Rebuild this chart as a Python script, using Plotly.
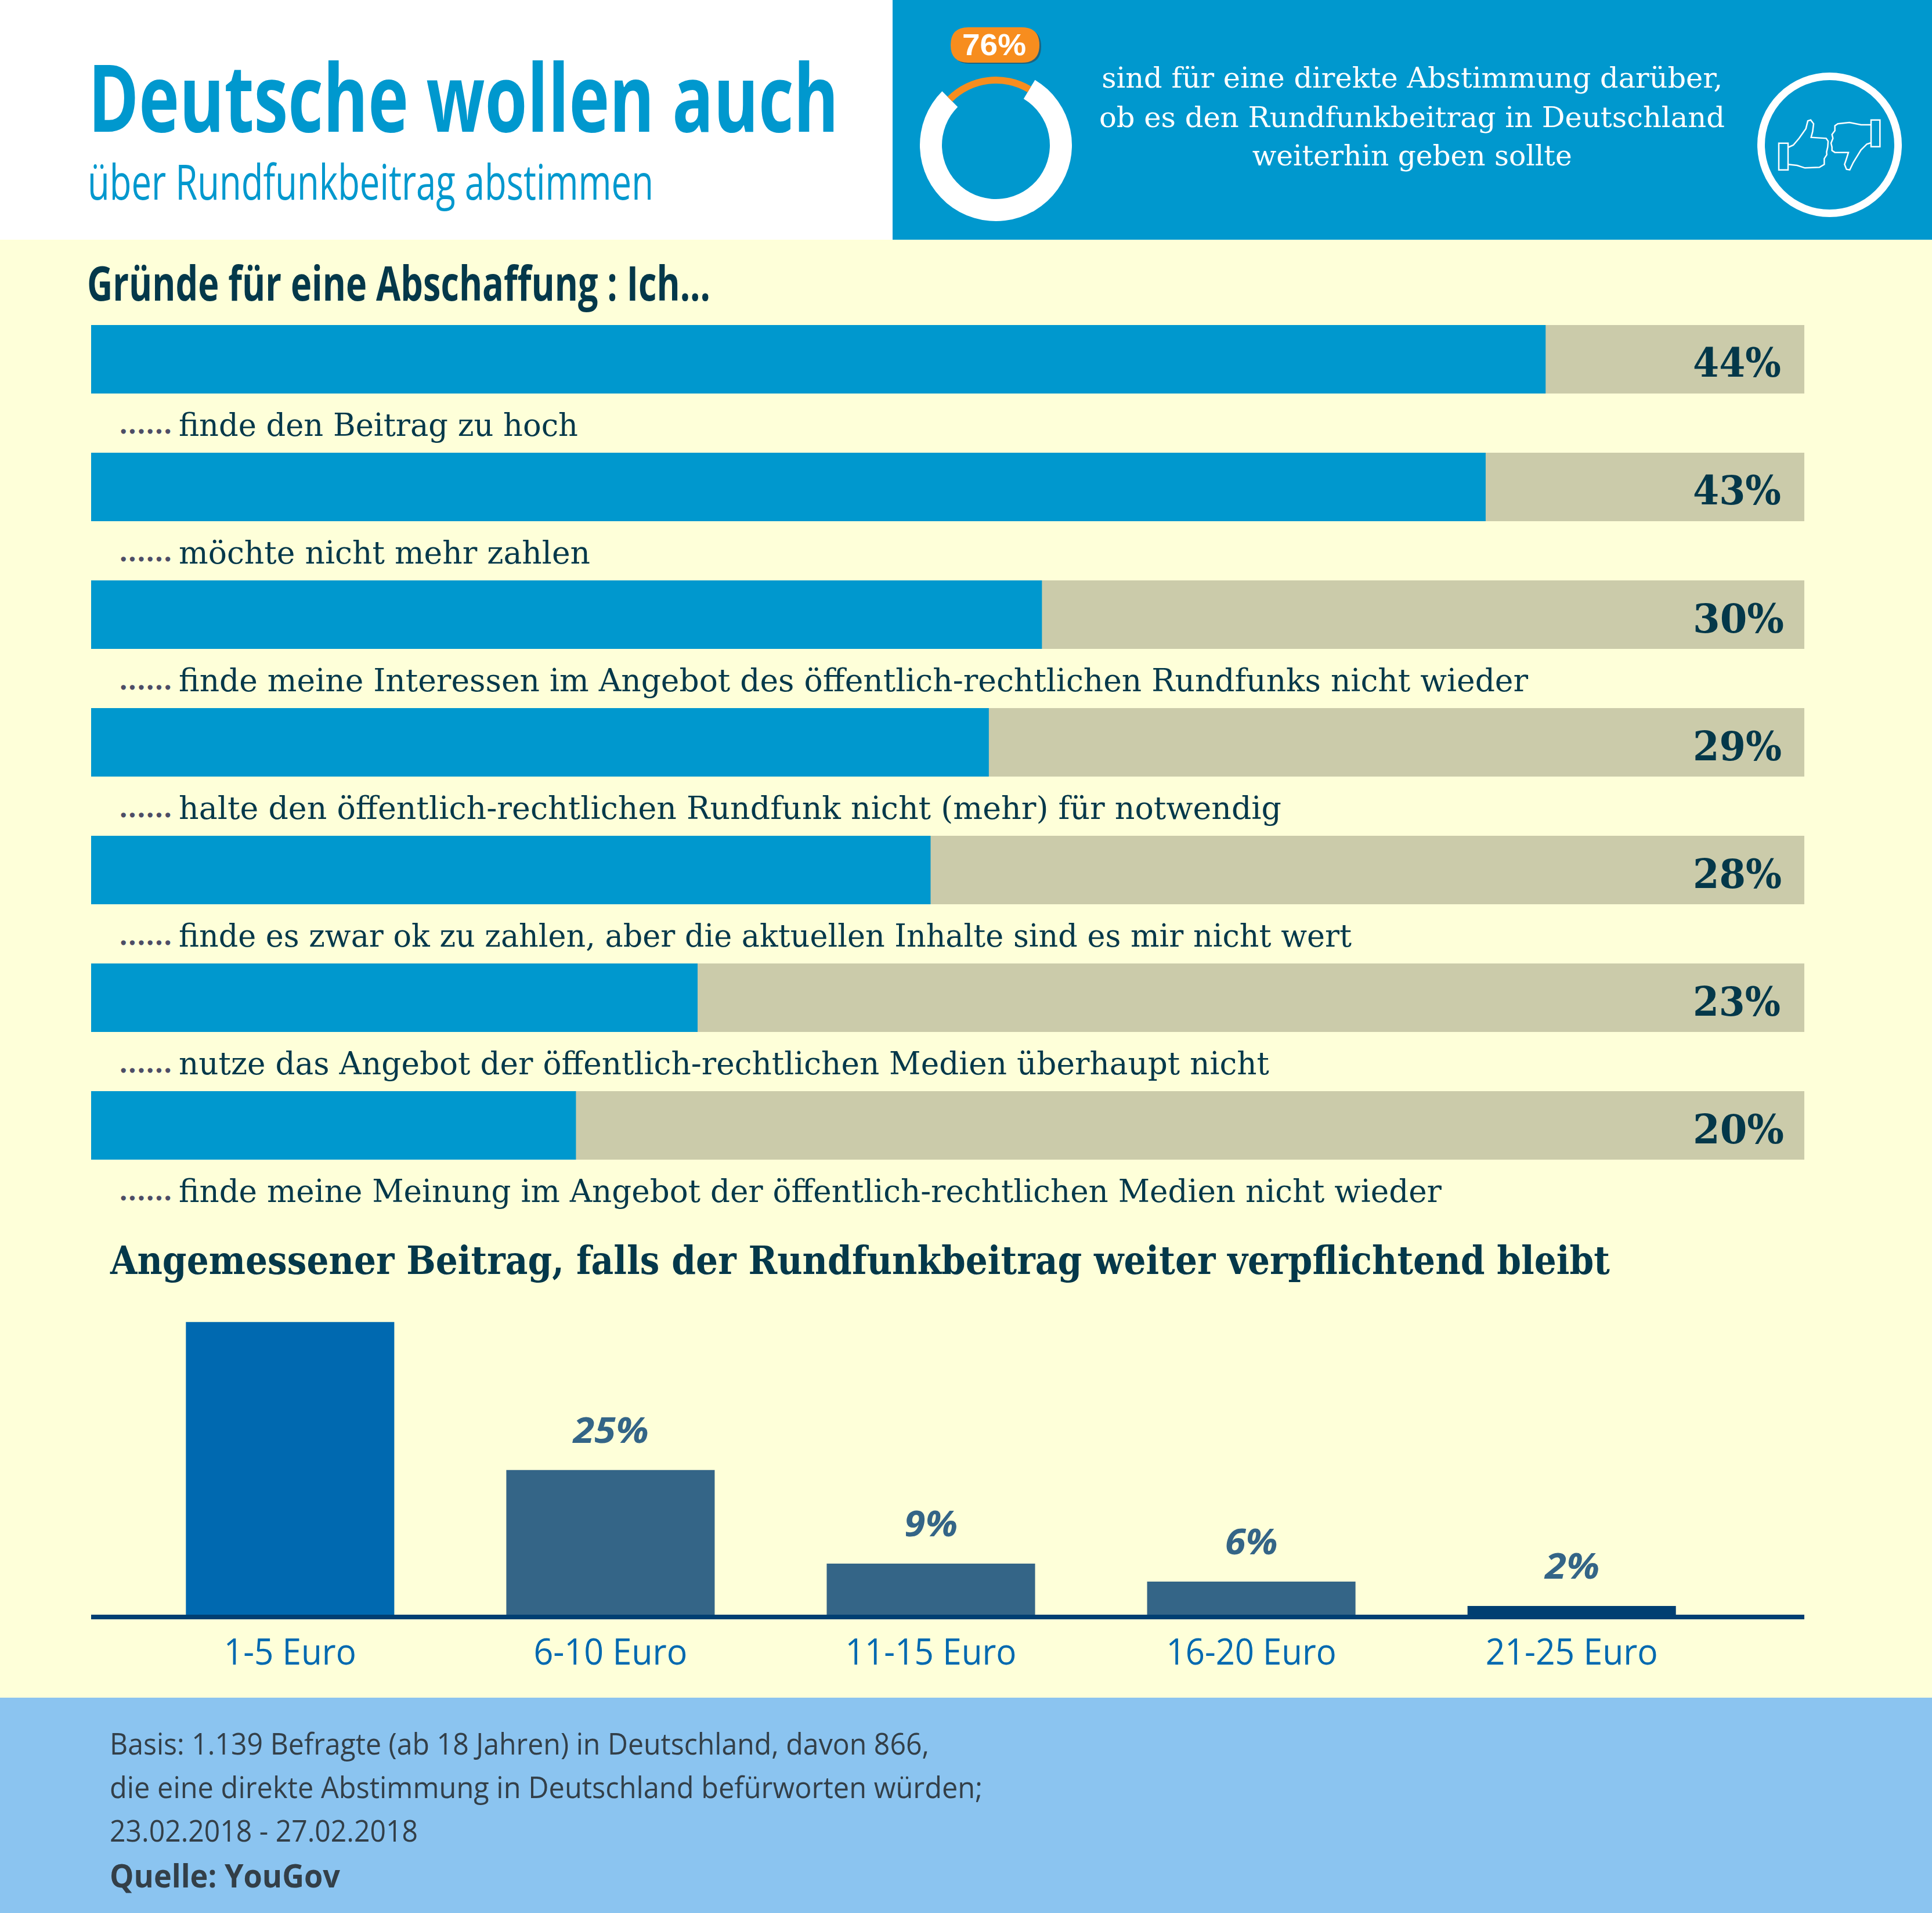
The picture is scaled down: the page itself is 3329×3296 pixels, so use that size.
import json
import plotly.graph_objects as go

W, H = 3329, 3296

# ---- data ----
reasons = [
    "finde den Beitrag zu hoch",
    "möchte nicht mehr zahlen",
    "finde meine Interessen im Angebot des öffentlich-rechtlichen Rundfunks nicht wieder",
    "halte den öffentlich-rechtlichen Rundfunk nicht (mehr) für notwendig",
    "finde es zwar ok zu zahlen, aber die aktuellen Inhalte sind es mir nicht wert",
    "nutze das Angebot der öffentlich-rechtlichen Medien überhaupt nicht",
    "finde meine Meinung im Angebot der öffentlich-rechtlichen Medien nicht wieder",
]
reason_labels = ["44%", "43%", "30%", "29%", "28%", "23%", "20%"]
# drawn length of each blue bar as a share of its grey track
reason_lengths = [84.9, 81.4, 55.5, 52.4, 49.0, 35.4, 28.3]
track_full = [100, 100, 100, 100, 100, 100, 100]
dots = "......"

fee_categories = ["1-5 Euro", "6-10 Euro", "11-15 Euro", "16-20 Euro", "21-25 Euro"]
fee_values = [50.6, 25, 8.84, 5.72, 1.5]
fee_labels = ["", "25%", "9%", "6%", "2%"]
fee_colors = ["#0069B0", "#346587", "#346587", "#346587", "#003F72"]

ring_gap_white = [21.1, 78.9]

title_main = "Deutsche wollen auch"
title_sub = "über Rundfunkbeitrag abstimmen"
heading_top = "Gründe für eine Abschaffung : Ich..."
heading_low = "Angemessener Beitrag, falls der Rundfunkbeitrag weiter verpflichtend bleibt"
poll_value = "76%"
poll_lines = ["sind für eine direkte Abstimmung darüber,",
              "ob es den Rundfunkbeitrag in Deutschland",
              "weiterhin geben sollte"]
foot_lines = ["Basis: 1.139 Befragte (ab 18 Jahren) in Deutschland, davon 866,",
              "die eine direkte Abstimmung in Deutschland befürworten würden;",
              "23.02.2018 - 27.02.2018"]
foot_source = "Quelle: YouGov"

# ---- palette / fonts ----
BLUE = "#0098CE"; CREAM = "#FEFFD9"; TRACK = "#CBCBAA"; DARK = "#04384A"
FOOT = "#8BC4F0"; ORANGE = "#F78D1E"; TICK = "#0069B0"; AXIS = "#003F72"
LABEL = "#346587"; FOOTTXT = "#333F48"; DOTS = "#4D4D66"
SLAB = "DejaVu Serif"; SANS = "Open Sans"

# on-page width of texts set in a condensed cut: the text stays real text, only narrowed
fit_widths = {
    title_main: 1293, title_sub: 975, heading_top: 1074, heading_low: 2584, poll_value: 110,
    poll_lines[0]: 1070, poll_lines[1]: 1078, poll_lines[2]: 551,
    foot_lines[0]: 1412, foot_lines[1]: 1504, foot_lines[2]: 531, foot_source: 397,
    reasons[0]: 688, reasons[1]: 709, reasons[2]: 2325, reasons[3]: 1900,
    reasons[4]: 2021, reasons[5]: 1879, reasons[6]: 2176,
    "44%": 152, "43%": 152, "30%": 157, "29%": 153, "28%": 153, "23%": 151, "20%": 157,
    "1-5 Euro": 228, "6-10 Euro": 265, "11-15 Euro": 295, "16-20 Euro": 293, "21-25 Euro": 297,
    "25%": 130, "9%": 92, "6%": 91, "2%": 94,
}


def px(x):
    return x / W


def py(y):
    return 1 - y / H


def rect(x0, y0, x1, y1, color):
    return dict(type="rect", xref="paper", yref="paper", x0=px(x0), x1=px(x1),
                y0=py(y0), y1=py(y1), fillcolor=color, line_width=0, layer="below")


def note(x, y, text, size, color, family, anchor="left", weight="normal", style="normal"):
    return dict(xref="paper", yref="paper", x=px(x), y=py(y), text=text, showarrow=False,
                xanchor=anchor, yanchor="middle", align=anchor,
                font=dict(size=size, color=color, family=family, weight=weight, style=style))


def zoom_path(points, origin=(3000, 110), closed=False):
    parts = []
    for i, (a, b) in enumerate(points):
        parts.append(f"{'M' if i == 0 else 'L'}{px(origin[0] + a / 3):.5f},{py(origin[1] + b / 3):.5f}")
    return " ".join(parts) + (" Z" if closed else "")


fig = go.Figure()

# upper chart: grey tracks with blue bars on top
fig.add_bar(y=reasons, x=track_full, orientation="h", marker=dict(color=TRACK, line_width=0),
            width=118 / 220, xaxis="x", yaxis="y", hoverinfo="skip")
fig.add_bar(y=reasons, x=reason_lengths, orientation="h", marker=dict(color=BLUE, line_width=0),
            width=118 / 220, xaxis="x", yaxis="y", hoverinfo="skip")

# lower chart
fig.add_bar(x=fee_categories, y=fee_values, marker=dict(color=fee_colors, line_width=0),
            width=359 / 552, xaxis="x2", yaxis="y2", hoverinfo="skip")

# donut in the header
cx, cy = 1716, 250
fig.add_pie(values=ring_gap_white, sort=False, direction="clockwise", rotation=-45,
            marker=dict(colors=["rgba(0,0,0,0)", "#FFFFFF"], line_width=0), hole=93 / 131,
            textinfo="none", hoverinfo="skip", showlegend=False,
            domain=dict(x=[px(cx - 131), px(cx + 131)], y=[py(cy + 131), py(cy - 131)]))
fig.add_pie(values=ring_gap_white, sort=False, direction="clockwise", rotation=-45,
            marker=dict(colors=[ORANGE, "rgba(0,0,0,0)"], line_width=0), hole=106 / 118,
            textinfo="none", hoverinfo="skip", showlegend=False,
            domain=dict(x=[px(cx - 118), px(cx + 118)], y=[py(cy + 118), py(cy - 118)]))

# ---- backgrounds and decoration ----
shapes = [
    rect(0, 0, 1538, 413, "#FFFFFF"),
    rect(1538, 0, W, 413, BLUE),
    rect(0, 2925, W, H, FOOT),
]


def pill(x0, y0, x1, y1, color):
    r = (y1 - y0) / 2
    pts = [f"M{px(x0 + r):.5f},{py(y0):.5f}", f"L{px(x1 - r):.5f},{py(y0):.5f}",
           f"Q{px(x1):.5f},{py(y0):.5f} {px(x1):.5f},{py(y0 + r):.5f}",
           f"Q{px(x1):.5f},{py(y1):.5f} {px(x1 - r):.5f},{py(y1):.5f}",
           f"L{px(x0 + r):.5f},{py(y1):.5f}",
           f"Q{px(x0):.5f},{py(y1):.5f} {px(x0):.5f},{py(y0 + r):.5f}",
           f"Q{px(x0):.5f},{py(y0):.5f} {px(x0 + r):.5f},{py(y0):.5f} Z"]
    return dict(type="path", xref="paper", yref="paper", path=" ".join(pts),
                fillcolor=color, line_width=0, layer="above")


shapes += [pill(1641, 50, 1794, 110, "#1F6480"), pill(1638, 47, 1791, 108, ORANGE)]

# thumbs icon
shapes.append(dict(type="circle", xref="paper", yref="paper", x0=px(3152.5 - 118), x1=px(3152.5 + 118),
                   y0=py(249.5 + 118), y1=py(249.5 - 118), line=dict(color="#FFFFFF", width=13),
                   fillcolor="rgba(0,0,0,0)", layer="above"))
icon_paths = [
    ([(195, 410), (243, 410), (243, 548), (195, 548)], True),
    ([(243, 432), (270, 420), (300, 385), (335, 335), (345, 295), (360, 290), (375, 310), (370, 350),
      (362, 380), (440, 385), (450, 400), (448, 430), (442, 455), (443, 470), (430, 490), (430, 520),
      (405, 535), (330, 538), (290, 525), (243, 520)], False),
    ([(672, 290), (718, 290), (718, 428), (672, 428)], True),
    ([(672, 315), (620, 315), (560, 303), (500, 310), (485, 320), (485, 345), (470, 365), (475, 385),
      (465, 410), (470, 430), (470, 448), (485, 458), (555, 458), (545, 490), (535, 520), (545, 545),
      (562, 548), (580, 510), (620, 445), (650, 415), (672, 408)], False),
]
for pts, closed in icon_paths:
    shapes.append(dict(type="path", xref="paper", yref="paper", path=zoom_path(pts, closed=closed),
                       line=dict(color="#FFFFFF", width=2.5), fillcolor="rgba(0,0,0,0)", layer="above"))

# ---- text ----
title_note = note(150, 164, title_main, 161, BLUE, SANS, weight="bold")
title_note.update(width=1310, height=170)
ann = [
    title_note,
    note(149, 311, title_sub, 85, BLUE, SANS),
    note(148, 486, heading_top, 82, DARK, SANS, weight="bold"),
    note(1713, 77, poll_value, 52, "#FFFFFF", "Liberation Sans", anchor="center", weight="bold"),
    note(187, 2171, heading_low, 68, DARK, SLAB, weight="bold"),
]
for line, y in zip(poll_lines, [134, 202, 268]):
    ann.append(note(2433, y, line, 48, "#FFFFFF", SLAB, anchor="center"))
for line, y in zip(foot_lines, [3002, 3077, 3152]):
    ann.append(note(187, y, line, 52, FOOTTXT, SANS))
ann.append(note(187, 3230, foot_source, 55, FOOTTXT, SANS, weight="bold"))

for r, lab in zip(reasons, reason_labels):
    ann.append(dict(xref="x", yref="y", x=100, y=r, xshift=-194, yshift=-6, text=lab, showarrow=False,
                    xanchor="left", yanchor="middle", align="left",
                    font=dict(size=70, color=DARK, family=SLAB, weight="bold")))
    ann.append(dict(xref="paper", yref="y", x=px(306), y=r, yshift=-113, text=r, showarrow=False,
                    xanchor="left", yanchor="middle", align="left",
                    font=dict(size=55, color=DARK, family=SLAB)))
    ann.append(dict(xref="paper", yref="y", x=px(203), y=r, yshift=-113, text=dots, showarrow=False,
                    xanchor="left", yanchor="middle", align="left",
                    font=dict(size=44, color=DOTS, family=SLAB, weight="bold")))
for c, v, lab in zip(fee_categories, fee_values, fee_labels):
    if lab:
        ann.append(dict(xref="x2", yref="y2", x=c, y=v, yshift=70, text=lab, showarrow=False,
                        xanchor="center", yanchor="middle",
                        font=dict(size=60, color=LABEL, family=SANS, weight="bold", style="italic")))

fig.update_layout(
    width=W, height=H, margin=dict(l=0, r=0, t=0, b=0, pad=0, autoexpand=False),
    paper_bgcolor=CREAM, plot_bgcolor="rgba(0,0,0,0)", barmode="overlay", showlegend=False,
    shapes=shapes, annotations=ann,
    xaxis=dict(domain=[px(157), px(3109)], range=[0, 100], visible=False, anchor="y"),
    yaxis=dict(domain=[py(2049), py(509)], range=[6.5, -0.5], type="category",
               categoryorder="array", categoryarray=reasons, visible=False, anchor="x"),
    xaxis2=dict(domain=[px(157), px(3109)], range=[-0.621, 4.726], type="category",
                categoryorder="array", categoryarray=fee_categories, anchor="y2",
                showgrid=False, zeroline=False, ticks="", showline=True, linecolor=AXIS, linewidth=8,
                tickfont=dict(size=62, color=TICK, family=SANS), ticklabelstandoff=4),
    yaxis2=dict(domain=[py(2782), py(2200)], range=[0, 58.4], visible=False, anchor="x2"),
)

post = """
document.body.style.margin = "0";
var fitWidths = %s;
function fitTexts() {
  document.querySelectorAll("svg text").forEach(function (t) {
    var w = fitWidths[t.textContent];
    if (w) { t.setAttribute("textLength", w); t.setAttribute("lengthAdjust", "spacingAndGlyphs"); }
  });
}
fitTexts();
setTimeout(fitTexts, 50);
""" % json.dumps(fit_widths, ensure_ascii=False)

fig.write_html("out.html", config=dict(displayModeBar=False), post_script=post)
